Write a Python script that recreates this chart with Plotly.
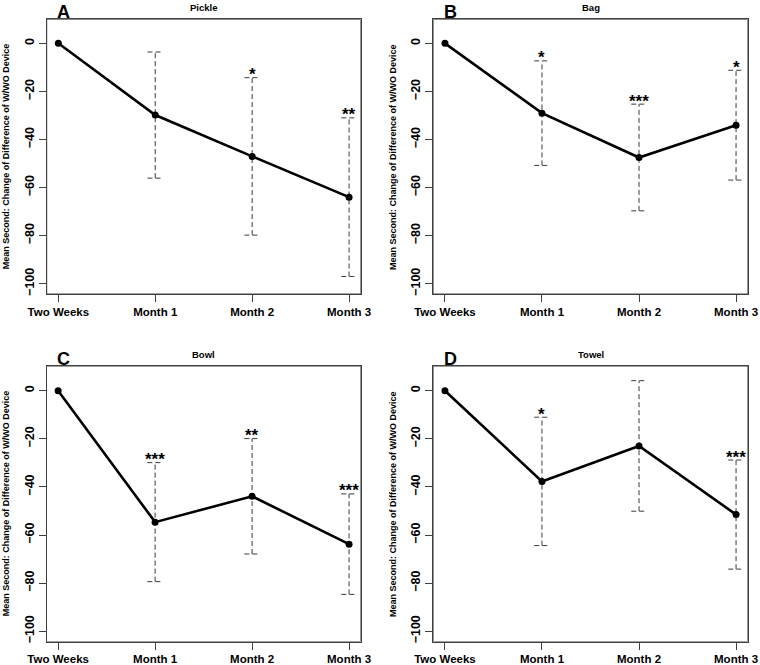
import plotly.graph_objects as go

# ---------------- data ----------------
categories = ["Two Weeks", "Month 1", "Month 2", "Month 3"]
panel_titles = ["Pickle", "Bag", "Bowl", "Towel"]
panel_letters = ["A", "B", "C", "D"]

pickle_mean = [0, -29.85, -47.05, -64.0]
pickle_err = [0, 26.25, 32.75, 33.0]
pickle_sig = ["", "", "*", "**"]

bag_mean = [0, -29.05, -47.5, -34.05]
bag_err = [0, 21.75, 22.2, 22.85]
bag_sig = ["", "*", "***", "*"]

bowl_mean = [0, -54.65, -43.9, -63.8]
bowl_err = [0, 24.75, 24.0, 20.9]
bowl_sig = ["", "***", "**", "***"]

towel_mean = [0, -37.7, -22.95, -51.5]
towel_err = [0, 26.7, 27.15, 22.7]
towel_sig = ["", "*", "", "***"]

y_ticks = [0, -20, -40, -60, -80, -100]
y_title = "Mean Second: Change of Difference of W/WO Device"

means = [pickle_mean, bag_mean, bowl_mean, towel_mean]
errs = [pickle_err, bag_err, bowl_err, towel_err]
sigs = [pickle_sig, bag_sig, bowl_sig, towel_sig]

# ---------------- layout geometry (pixels) ----------------
W, H = 760, 665
boxes = [  # (left, right, top, bottom)
    (46.7, 360.7, 19.3, 294.0),
    (433.3, 747.7, 19.3, 294.0),
    (46.5, 360.7, 366.0, 641.5),
    (433.3, 747.7, 366.0, 641.5),
]
xrange_ = [0.88, 4.12]
yranges = [[-104.3, 10.0], [-104.3, 10.0], [-104.3, 10.3], [-104.3, 10.3]]

FONT = "Liberation Sans, Arial, Helvetica, sans-serif"
BOX = "#404040"
ERRC = "#3a3a3a"
CAP = 0.08

fig = go.Figure()
xs = [1, 2, 3, 4]

for i in range(4):
    sfx = "" if i == 0 else str(i + 1)
    xa, ya = "x" + sfx, "y" + sfx
    m, e, s = means[i], errs[i], sigs[i]
    yr = yranges[i]

    # frame of the plot region (drawn at the axis range limits)
    fig.add_trace(go.Scatter(
        x=[xrange_[0], xrange_[1], xrange_[1], xrange_[0], xrange_[0]],
        y=[yr[0], yr[0], yr[1], yr[1], yr[0]], mode="lines",
        xaxis=xa, yaxis=ya, cliponaxis=False,
        line=dict(color=BOX, width=1), hoverinfo="skip", showlegend=False))

    # dashed error bars
    ex, ey = [], []
    for k in range(4):
        if e[k] == 0:
            continue
        lo, hi = m[k] - e[k], m[k] + e[k]
        ex += [xs[k], xs[k], None]
        ey += [lo, hi, None]
        for v in (lo, hi):
            ex += [xs[k] - CAP, xs[k] + CAP, None]
            ey += [v, v, None]
    fig.add_trace(go.Scatter(x=ex, y=ey, mode="lines", xaxis=xa, yaxis=ya,
                             line=dict(color=ERRC, width=1, dash="5px,3px"),
                             hoverinfo="skip", showlegend=False))
    # mean line
    fig.add_trace(go.Scatter(x=xs, y=m, mode="lines+markers", xaxis=xa, yaxis=ya,
                             line=dict(color="black", width=2.6),
                             marker=dict(color="black", size=7),
                             showlegend=False))
    # significance stars
    for k in range(4):
        if s[k]:
            fig.add_annotation(x=xs[k], y=m[k] + e[k], xref=xa, yref=ya,
                               text=s[k], showarrow=False, yanchor="middle",
                               yshift=3,
                               font=dict(family=FONT, size=17, color="black",
                                         weight="bold"))

    L, R, T, B = boxes[i]
    axkey = "xaxis" + sfx
    aykey = "yaxis" + sfx
    fig.update_layout(**{
        axkey: dict(domain=[L / W, R / W], anchor=ya, range=xrange_,
                    tickvals=xs, ticktext=categories, showgrid=False,
                    zeroline=False, showline=True, mirror=True,
                    automargin=False,
                    linecolor=BOX, linewidth=1, ticks="outside", ticklen=7,
                    tickcolor=BOX, tickwidth=1,
                    tickfont=dict(family=FONT, size=11.5, color="black",
                                  weight="bold")),
        aykey: dict(domain=[1 - B / H, 1 - T / H], anchor=xa,
                    range=yr, tickvals=y_ticks, showgrid=False,
                    zeroline=False, showline=True, mirror=True,
                    automargin=False,
                    linecolor=BOX, linewidth=1, ticks="outside", ticklen=7,
                    tickcolor=BOX, tickwidth=1, tickangle=-90,
                    tickfont=dict(family=FONT, size=12.5, color="black",
                                  weight="bold")),
    })

    # panel title
    fig.add_annotation(x=(L + R) / 2 / W, y=1 - (T - 11.5) / H, xref="paper",
                       yref="paper", text=panel_titles[i], showarrow=False,
                       xanchor="center", yanchor="middle",
                       font=dict(family=FONT, size=9.5, color="black",
                                 weight="bold"))
    # panel letter
    fig.add_annotation(x=(L + 8.5) / W, y=1 - (T - 19.3) / H, xref="paper",
                       yref="paper", text=panel_letters[i], showarrow=False,
                       xanchor="left", yanchor="top",
                       font=dict(family=FONT, size=18, color="black",
                                 weight="bold"))
    # y axis title
    fig.add_annotation(x=(L - 41) / W, y=1 - (T + B) / 2 / H, xref="paper",
                       yref="paper", text=y_title, showarrow=False,
                       textangle=-90, xanchor="center", yanchor="middle",
                       font=dict(family=FONT, size=9, color="black",
                                 weight="bold"))

fig.update_layout(width=W, height=H,
                  margin=dict(l=0, r=0, t=0, b=0, pad=0, autoexpand=False),
                  paper_bgcolor="white", plot_bgcolor="white",
                  showlegend=False)

fig.write_html("out.html", config={"displayModeBar": False},
               post_script="document.body.style.margin='0px';")
